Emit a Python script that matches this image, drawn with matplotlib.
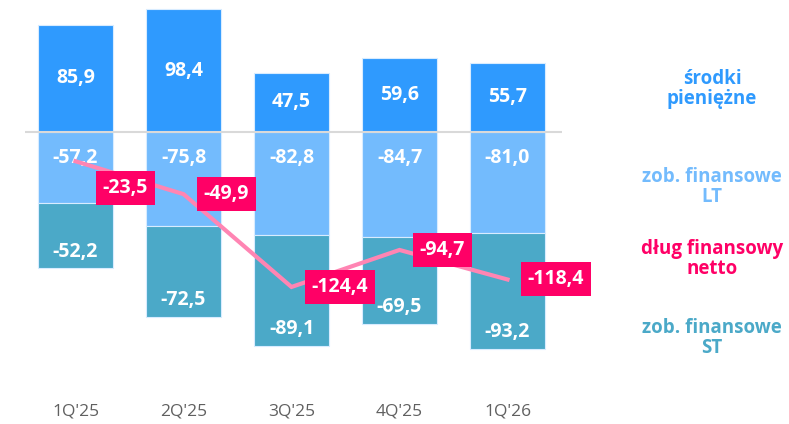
import matplotlib
matplotlib.use("Agg")
import matplotlib.pyplot as plt
import numpy as np

categories = ["1Q'25", "2Q'25", "3Q'25", "4Q'25", "1Q'26"]
cash = [85.9, 98.4, 47.5, 59.6, 55.7]
lt_liab = [-57.2, -75.8, -82.8, -84.7, -81.0]
st_liab = [-52.2, -72.5, -89.1, -69.5, -93.2]
net_debt = [-23.5, -49.9, -124.4, -94.7, -118.4]

c_cash = "#2F9AFE"
c_lt = "#73BBFD"
c_st = "#4BA9C8"
c_line = "#FF85B3"
c_box = "#FF0066"

FONT = "Open Sans"

def fmt(v):
    return f"{v:.1f}".replace(".", ",")

W, H = 789, 424
fig = plt.figure(figsize=(W / 100, H / 100), dpi=100)
ax = fig.add_axes([25 / W, (H - 395) / H, (562 - 25) / W, 395 / H])
ax.set_xlim(-0.4676, 4.5046)
ax.set_ylim(-211.1, 105.9)

x = np.arange(len(categories))
bw = 0.69
ax.bar(x, cash, bw, color=c_cash, edgecolor="#D8ECFF", linewidth=0.8, zorder=2)
ax.bar(x, lt_liab, bw, color=c_lt, edgecolor="#D8ECFF", linewidth=0.8, zorder=2)
ax.bar(x, st_liab, bw, bottom=lt_liab, color=c_st, edgecolor="#D8ECFF", linewidth=0.8, zorder=2)
ax.axhline(0, color="#D9D9D9", linewidth=1.5, zorder=3)

FS = 14
for i in range(len(x)):
    ax.text(x[i], cash[i] / 2, fmt(cash[i]), ha="center", va="center",
            color="white", fontsize=FS, fontweight="bold", family=FONT, zorder=4)
    ax.annotate(fmt(lt_liab[i]), (x[i], 0), xytext=(0, -19), textcoords="offset points",
                ha="center", va="center", color="white", fontsize=FS,
                fontweight="bold", family=FONT, zorder=4)
    ax.annotate(fmt(st_liab[i]), (x[i], lt_liab[i] + st_liab[i]), xytext=(0, 12),
                textcoords="offset points", ha="center", va="center", color="white",
                fontsize=FS, fontweight="bold", family=FONT, zorder=4)

ax.plot(x, net_debt, color=c_line, linewidth=3, zorder=5, solid_joinstyle="miter")

offsets = [(19.5, -19.5), (14.5, 0), (14.5, 0), (14.5, 0), (14.5, 0)]
for i in range(len(x)):
    ax.annotate(fmt(net_debt[i]), (x[i], net_debt[i]), xytext=offsets[i],
                textcoords="offset points", ha="left", va="center", color="white",
                fontsize=FS, fontweight="bold", family=FONT, zorder=6,
                bbox=dict(boxstyle="square,pad=0.36", fc=c_box, ec="none"))

ax.set_xticks(x)
ax.set_xticklabels(categories, color="#606060", fontsize=12.5, family=FONT)
ax.tick_params(axis="x", length=0, pad=6)
ax.set_yticks([])
for s in ax.spines.values():
    s.set_visible(False)
ax.patch.set_alpha(0)

legend_items = [
    ("środki\npieniężne", c_cash, 89),
    ("zob. finansowe\nLT", c_lt, 187),
    ("dług finansowy\nnetto", c_box, 259),
    ("zob. finansowe\nST", c_st, 338),
]
for txt, col, ypix in legend_items:
    fig.text(712 / W, 1 - ypix / H, txt, ha="center", va="center", color=col,
             fontsize=13.5, fontweight="bold", family=FONT, linespacing=0.95)

fig.savefig("out.png", dpi=100)
